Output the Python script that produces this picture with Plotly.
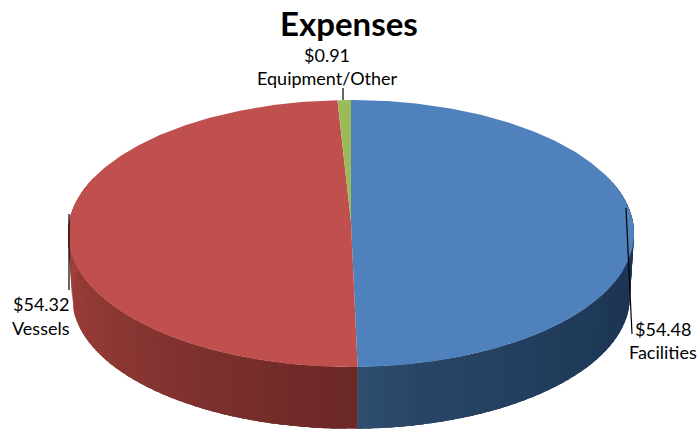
import numpy as np
import plotly.graph_objects as go

# Expense breakdown, in thousands of dollars
categories = ["Facilities", "Vessels", "Equipment/Other"]
values = [54.48, 54.32, 0.91]
value_labels = ["$54.48", "$54.32", "$0.91"]
title_text = "Expenses"

TOP_COLORS = ["#4F81BD", "#C0504D", "#9BBB59"]
# Rim shading per slice, as (angle in degrees, RGB) stops
RIM_STOPS = [
    [(60, (26, 50, 80)), (110, (28, 53, 84)), (165, (40, 68, 100)), (180, (48, 78, 112))],
    [(180, (108, 40, 38)), (215, (128, 50, 47)), (245, (148, 58, 54)), (300, (172, 68, 64))],
    [(357, (120, 140, 70)), (360, (120, 140, 70))],
]

# Projected disc: centre, half axes, perspective strength, wall depth
CX, CY, RX, RY, K = 351.0, 222.0, 282.0, 132.5, 0.0861
DEPTH, SHRINK = 64.0, 0.985


def project(theta_deg):
    """Map clockwise angles from the far edge onto the tilted disc."""
    t = np.radians(theta_deg)
    u, v = np.sin(t), -np.cos(t)
    w = 1 - K * v
    return CX + RX * u / w, CY + RY * v / w


def project_bottom(theta_deg):
    x, y = project(theta_deg)
    return CX + (x - CX) * SHRINK, CY + (y - CY) * SHRINK + DEPTH


def rim_color(stops, angle):
    angles = [s[0] for s in stops]
    rgb = [np.interp(angle, angles, [s[1][i] for s in stops]) for i in range(3)]
    return "rgb({:.0f},{:.0f},{:.0f})".format(*rgb)


def polygon(x, y, color):
    return go.Scatter(
        x=x, y=y, mode="lines", fill="toself", fillcolor=color,
        line=dict(width=0), hoverinfo="skip", showlegend=False,
    )


fractions = np.array(values) / sum(values)
edges = np.concatenate([[0.0], np.cumsum(fractions) * 360.0])

fig = go.Figure()

# Outer wall: each shaded strip runs on under the next one, so no seams show
for i in range(len(values)):
    start, end = max(edges[i], 70.0), min(edges[i + 1], 290.0)
    if end <= start:
        continue
    steps = np.arange(start, end, 2.0)
    for a in steps:
        arc = np.linspace(a, min(a + 5.0, end), 8)
        tx, ty = project(arc)
        bx, by = project_bottom(arc)
        fig.add_trace(polygon(
            np.concatenate([tx, bx[::-1]]), np.concatenate([ty, by[::-1]]),
            rim_color(RIM_STOPS[i], a + 1.0),
        ))

# Top face of every slice
for i in range(len(values)):
    arc = np.linspace(edges[i], edges[i + 1], 200)
    ax, ay = project(arc)
    fig.add_trace(polygon(
        np.concatenate([[CX], ax, [CX]]), np.concatenate([[CY], ay, [CY]]),
        TOP_COLORS[i],
    ))

FONT = "Lato, Carlito, Calibri, sans-serif"
LABEL_SIZE = 18
annotations = [
    dict(x=349, y=23, text=f"<b>{title_text}</b>", font=dict(size=33, family=FONT, color="#000")),
    dict(x=327, y=55, text=value_labels[2], font=dict(size=LABEL_SIZE, family=FONT, color="#000")),
    dict(x=327, y=78, text=categories[2], font=dict(size=LABEL_SIZE, family=FONT, color="#000")),
    dict(x=41, y=304, text=value_labels[1], font=dict(size=LABEL_SIZE, family=FONT, color="#000")),
    dict(x=41, y=328, text=categories[1], font=dict(size=LABEL_SIZE, family=FONT, color="#000")),
    dict(x=663, y=329, text=value_labels[0], font=dict(size=LABEL_SIZE, family=FONT, color="#000")),
    dict(x=663, y=352, text=categories[0], font=dict(size=LABEL_SIZE, family=FONT, color="#000")),
]
for a in annotations:
    a.update(xref="x", yref="y", showarrow=False, xanchor="center", yanchor="middle")

# Leader lines from each slice to its label
leaders = [(343, 88, 343, 100), (69, 214, 69, 290), (626, 208, 632, 334)]
shapes = [
    dict(type="line", xref="x", yref="y", x0=x0, y0=y0, x1=x1, y1=y1,
         line=dict(color="#000", width=1.2))
    for x0, y0, x1, y1 in leaders
]

fig.update_layout(
    width=698, height=429, margin=dict(l=0, r=0, t=0, b=0),
    paper_bgcolor="#fff", plot_bgcolor="#fff", showlegend=False,
    xaxis=dict(range=[0, 698], visible=False, fixedrange=True),
    yaxis=dict(range=[429, 0], visible=False, fixedrange=True),
    annotations=annotations, shapes=shapes,
)

fig.write_html("out.html", config={"displayModeBar": False})
